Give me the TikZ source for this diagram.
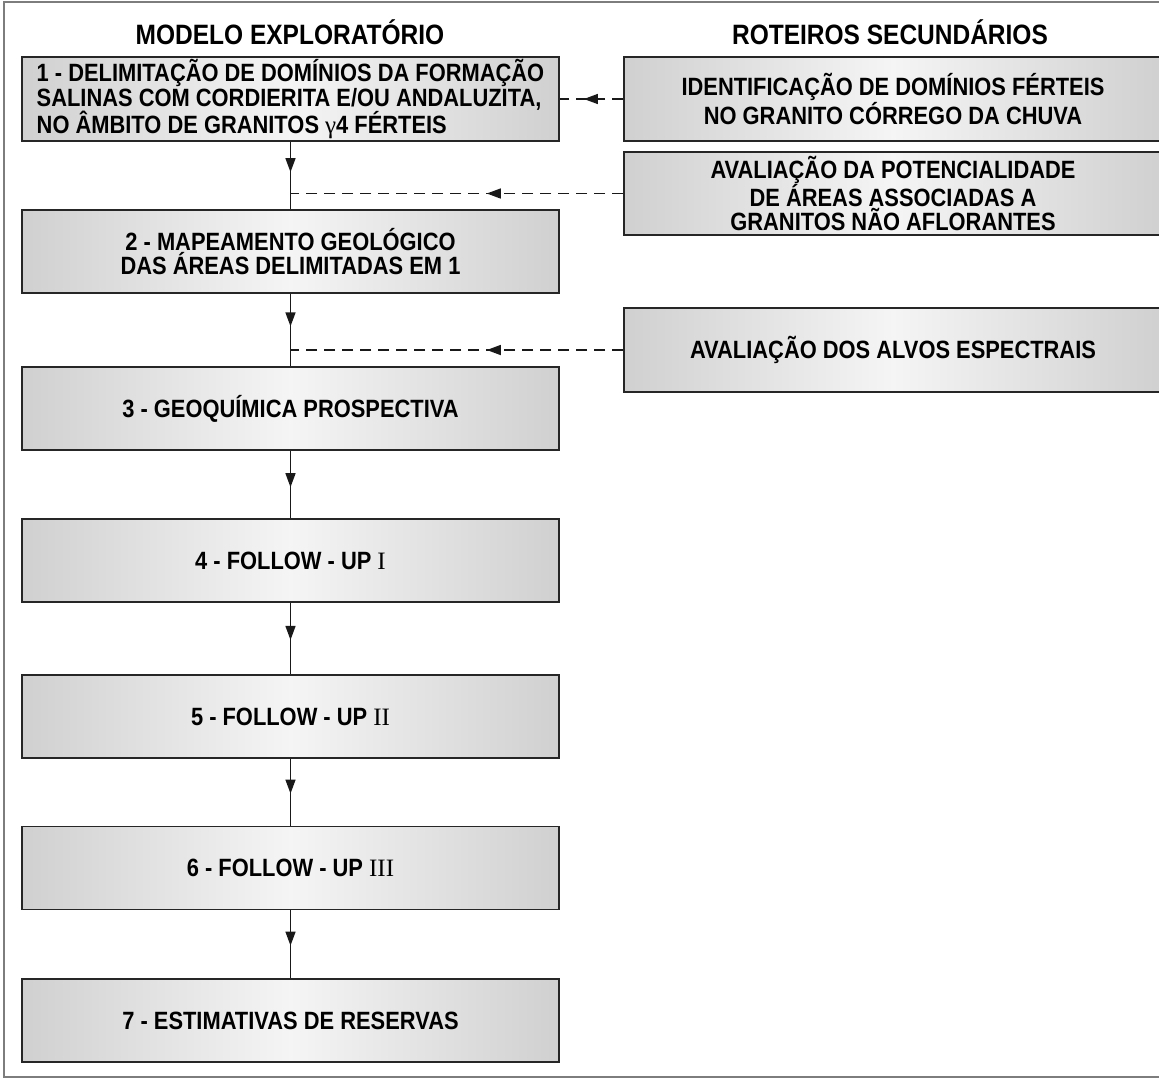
\documentclass[tikz,border=0pt]{standalone}
\usepackage{fontspec}
\setmainfont{Liberation Sans}[FakeStretch=0.875]
\newfontfamily\romfont{Liberation Serif}
\usetikzlibrary{arrows.meta,decorations.markings}
\definecolor{boxgray}{RGB}{208,208,208}
\definecolor{framegray}{RGB}{125,125,125}
\tikzset{
  passo/.style={draw=black!85, line width=1.6pt, left color=boxgray, right color=boxgray,
    middle color=white!96!black, minimum width=537pt, minimum height=83pt, inner sep=0pt,
    font=\bfseries\fontsize{25}{24.5}\selectfont, align=center},
  roteiro/.style={passo, minimum width=538pt},
  titulo/.style={font=\bfseries\fontsize{28}{30}\selectfont},
  fluxo/.style={line width=1.4pt, black!90},
  tracejado/.style={fluxo, dash pattern=on 11pt off 7pt},
  midarrow/.style={postaction={decorate}, decoration={markings,
    mark=at position #1 with {\arrow{Triangle[length=14pt,width=10pt]}}}},
}
\begin{document}
\begin{tikzpicture}[x=1pt,y=-1pt]
  \useasboundingbox (0,0) rectangle (1159,1080);
  \clip (0,0) rectangle (1159,1080);
  \draw[framegray, line width=1.5pt] (1165,2) -- (4,2) -- (4,1077) -- (1165,1077);

  % titulos
  \node[titulo] (tmod) at (290,32) {MODELO EXPLORATÓRIO};
  \node[titulo] (trot) at (890,32) {ROTEIROS SECUNDÁRIOS};

  % modelo exploratorio
  \node[passo, align=left, minimum height=84pt] (b1) at (290.5,99)
    {1 - DELIMITAÇÃO DE DOMÍNIOS DA FORMAÇÃO\\SALINAS COM CORDIERITA E/OU ANDALUZITA,\\NO ÂMBITO DE GRANITOS {\romfont\mdseries γ}4 FÉRTEIS};
  \node[passo] (b2) at (290.5,251.5) {2 - MAPEAMENTO GEOLÓGICO\\DAS ÁREAS DELIMITADAS EM 1};
  \node[passo] (b3) at (290.5,408.5) {3 - GEOQUÍMICA PROSPECTIVA};
  \node[passo] (b4) at (290.5,560.5) {4 - FOLLOW - UP {\romfont\mdseries I}};
  \node[passo] (b5) at (290.5,716.5) {5 - FOLLOW - UP {\romfont\mdseries II}};
  \node[passo] (b6) at (290.5,868) {6 - FOLLOW - UP {\romfont\mdseries III}};
  \node[passo] (b7) at (290.5,1020.5) {7 - ESTIMATIVAS DE RESERVAS};

  % roteiros secundarios
  \node[roteiro, minimum height=84pt] (r1) at (893,99)
    {IDENTIFICAÇÃO DE DOMÍNIOS FÉRTEIS\\NO GRANITO CÓRREGO DA CHUVA};
  \node[roteiro] (r2) at (893,193.5)
    {AVALIAÇÃO DA POTENCIALIDADE\\DE ÁREAS ASSOCIADAS A\\GRANITOS NÃO AFLORANTES};
  \node[roteiro, minimum height=84pt] (r3) at (893,350) {AVALIAÇÃO DOS ALVOS ESPECTRAIS};

  % ligacoes
  \draw[fluxo, midarrow=0.45] (b1) -- (b2);
  \draw[fluxo, midarrow=0.45] (b2) -- (b3);
  \draw[fluxo, midarrow=0.54] (b3) -- (b4);
  \draw[fluxo, midarrow=0.52] (b4) -- (b5);
  \draw[fluxo, midarrow=0.52] (b5) -- (b6);
  \draw[fluxo, midarrow=0.52] (b6) -- (b7);

  \draw[tracejado, midarrow=0.62] (r1.west) -- (b1.east);
  \draw[tracejado, midarrow=0.41] (r2.west) -- (r2.west -| b2.north);
  \draw[tracejado, midarrow=0.41] (r3.west) -- (r3.west -| b3.north);
\end{tikzpicture}
\end{document}
